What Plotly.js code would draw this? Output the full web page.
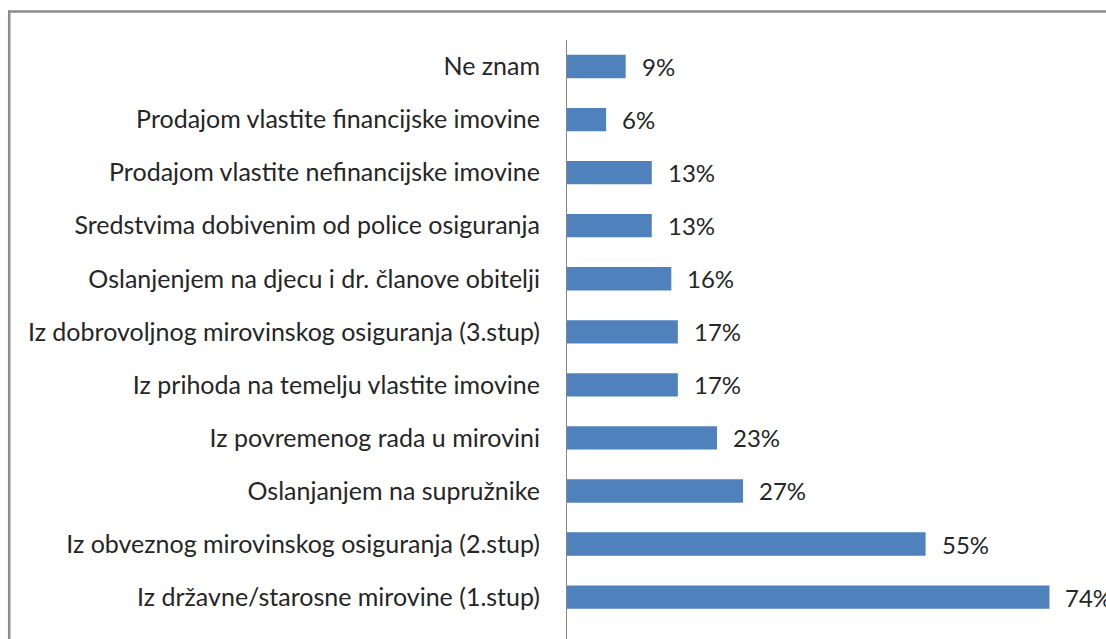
<!DOCTYPE html>
<html>
<head>
<meta charset="utf-8">
<script src="https://cdn.plot.ly/plotly-3.0.1.min.js"></script>
<style>
html,body{margin:0;padding:0;background:#fff;}
#chart{width:1106px;height:639px;}
</style>
</head>
<body>
<div id="chart"></div>
<script>
const categories = [
  "Ne znam",
  "Prodajom vlastite financijske imovine",
  "Prodajom vlastite nefinancijske imovine",
  "Sredstvima dobivenim od police osiguranja",
  "Oslanjenjem na djecu i dr. članove obitelji",
  "Iz dobrovoljnog mirovinskog osiguranja (3.stup)",
  "Iz prihoda na temelju vlastite imovine",
  "Iz povremenog rada u mirovini",
  "Oslanjanjem na supružnike",
  "Iz obveznog mirovinskog osiguranja (2.stup)",
  "Iz državne/starosne mirovine (1.stup)"
];
const values = [9, 6, 13, 13, 16, 17, 17, 23, 27, 55, 74];
const valueLabels = ["9%", "6%", "13%", "13%", "16%", "17%", "17%", "23%", "27%", "55%", "74%"];

const W = 1106, H = 639;
const plotLeft = 567, plotTop = 39.5;
const pw = W - plotLeft, ph = H - plotTop;
const pxPerUnit = 6.52;
const catSpacing = 53.1;

const textColor = "#262626";
const fontFam = "Lato, 'Open Sans', sans-serif";

const trace = {
  type: "bar",
  orientation: "h",
  y: categories,
  x: values,
  marker: {color: "#4f81bd", line: {width: 0}},
  width: 0.44,
  hoverinfo: "none"
};

const annotations = categories.map((c, i) => ({
  x: values[i], y: c, xref: "x", yref: "y",
  text: valueLabels[i], showarrow: false,
  xanchor: "left", yanchor: "middle", xshift: 14, yshift: 0,
  font: {family: fontFam, size: 24, color: textColor}
}));

const px2paperX = p => (p - plotLeft) / pw;
const px2paperY = p => (H - p) / ph;

const layout = {
  width: W, height: H,
  margin: {l: plotLeft, r: 0, t: plotTop, b: 0, pad: 0},
  paper_bgcolor: "#ffffff",
  plot_bgcolor: "#ffffff",
  showlegend: false,
  font: {family: fontFam, size: 24, color: textColor},
  xaxis: {
    range: [0, pw / pxPerUnit],
    showgrid: false, zeroline: false, showline: false,
    showticklabels: false, ticks: "", fixedrange: true
  },
  yaxis: {
    type: "category",
    categoryorder: "array",
    categoryarray: categories,
    range: [ph / catSpacing - 0.5, -0.5],
    showgrid: false, zeroline: false,
    showline: true, linecolor: "#868686", linewidth: 1,
    ticks: "", ticklabelstandoff: 21,
    tickfont: {family: fontFam, size: 25, color: textColor},
    automargin: false, fixedrange: true
  },
  annotations: annotations,
  shapes: [
    {type: "line", xref: "paper", yref: "paper",
     x0: px2paperX(8), x1: px2paperX(W + 5), y0: px2paperY(11), y1: px2paperY(11),
     line: {color: "#8c8c8c", width: 2.5}},
    {type: "line", xref: "paper", yref: "paper",
     x0: px2paperX(9.2), x1: px2paperX(9.2), y0: px2paperY(10), y1: px2paperY(H + 5),
     line: {color: "#8c8c8c", width: 2.5}}
  ]
};

Plotly.newPlot("chart", [trace], layout, {staticPlot: true, displayModeBar: false});
</script>
</body>
</html>
